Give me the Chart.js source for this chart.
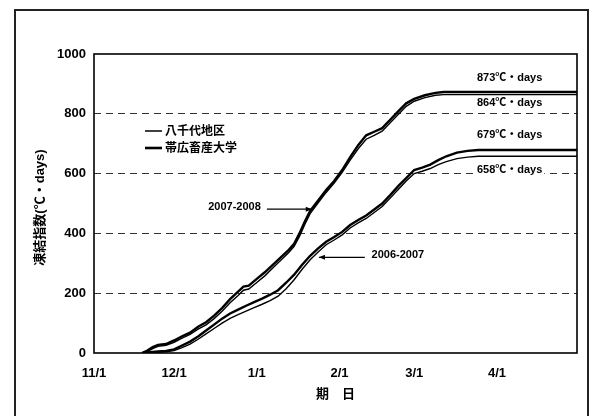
<!DOCTYPE html>
<html>
<head>
<meta charset="utf-8">
<script src="https://cdn.jsdelivr.net/npm/chart.js@4/dist/chart.umd.min.js"></script>
<style>
  html, body { margin: 0; padding: 0; background: #fff; }
  #wrap { position: relative; width: 594px; height: 416px; overflow: hidden; }
  #frame { position: absolute; left: 14px; top: 9px; width: 575px; height: 440px;
           border: 2px solid #222; box-sizing: border-box; }
  canvas { position: absolute; left: 0; top: 0; }
</style>
</head>
<body>
<div id="wrap"><div id="frame"></div><canvas id="c" width="594" height="416"></canvas></div>
<script>
// Days counted from 11/1; month tick positions and labels
const monthDays   = [0, 30, 61, 92, 120, 151];
const monthLabels = ['11/1', '12/1', '1/1', '2/1', '3/1', '4/1'];
const yTicks      = [0, 200, 400, 600, 800, 1000];

// Season 2007-2008 (freezing index, °C・days)
const days0708    = [18, 20, 22, 24, 27, 30, 33, 36, 39, 42, 45, 48, 51, 54, 56, 58, 61, 64, 67, 70, 73, 75, 77, 79, 81, 84, 87, 90, 93, 96, 99, 102, 105, 108, 111, 114, 117, 120, 124, 128, 131, 181];
const obihiro0708 = [0, 8, 20, 27, 30, 42, 56, 68, 88, 103, 125, 150, 180, 205, 222, 225, 248, 270, 295, 320, 345, 365, 400, 440, 475, 510, 545, 575, 612, 655, 695, 728, 740, 752, 780, 808, 835, 850, 862, 870, 873, 873];
const yachiyo0708 = [0, 5, 15, 22, 26, 36, 50, 62, 80, 94, 115, 140, 168, 192, 210, 214, 236, 258, 284, 310, 336, 357, 390, 430, 466, 502, 537, 568, 604, 645, 683, 715, 728, 742, 770, 798, 825, 842, 854, 862, 864, 864];

// Season 2006-2007
const days0607    = [18, 21, 24, 27, 30, 33, 36, 39, 42, 45, 48, 51, 54, 57, 60, 63, 66, 69, 72, 75, 78, 81, 84, 87, 90, 93, 96, 99, 102, 105, 108, 111, 114, 117, 120, 123, 126, 129, 132, 136, 140, 144, 181];
const obihiro0607 = [0, 3, 5, 7, 12, 25, 38, 55, 75, 95, 115, 132, 145, 158, 170, 182, 195, 210, 235, 262, 295, 325, 350, 372, 388, 405, 428, 445, 460, 480, 500, 528, 558, 585, 612, 620, 630, 645, 658, 670, 676, 679, 679];
const yachiyo0607 = [0, 2, 3, 4, 8, 18, 30, 46, 64, 82, 100, 116, 128, 140, 152, 163, 175, 190, 215, 245, 280, 312, 338, 362, 378, 395, 418, 435, 450, 470, 490, 518, 547, 575, 600, 608, 617, 630, 640, 650, 655, 658, 658];

// Final totals shown at the right
const totalLabels = ['873℃・days', '864℃・days', '679℃・days', '658℃・days'];
const totalPos    = [[143.5, 921], [143.5, 835], [143.5, 728], [143.5, 611]];

const seriesNames = ['八千代地区', '帯広畜産大学'];

const FONT = '"Liberation Sans", "Noto Sans CJK JP", Arial, sans-serif';
const toXY = (xs, ys) => xs.map((d, i) => ({ x: d, y: ys[i] }));

const lineDs = (label, xs, ys, w) => ({
  label, data: toXY(xs, ys), borderColor: '#000', borderWidth: w,
  pointRadius: 0, tension: 0, fill: false
});

// Frame, legend, annotations and axis titles
const decor = {
  id: 'decor',
  afterDatasetsDraw(chart) {
    const { ctx, chartArea: a, scales: { x, y } } = chart;
    ctx.save();
    // plot border
    ctx.strokeStyle = '#000';
    ctx.lineWidth = 1.6;
    ctx.setLineDash([]);
    ctx.strokeRect(a.left, a.top, a.right - a.left, a.bottom - a.top);

    // totals with white background
    ctx.font = 'bold 11px ' + FONT;
    ctx.textBaseline = 'middle';
    ctx.textAlign = 'left';
    totalLabels.forEach((t, i) => {
      const px = x.getPixelForValue(totalPos[i][0]);
      const py = y.getPixelForValue(totalPos[i][1]);
      const w = ctx.measureText(t).width;
      ctx.fillStyle = '#fff';
      ctx.fillRect(px - 2, py - 7, w + 4, 14);
      ctx.fillStyle = '#000';
      ctx.fillText(t, px, py);
    });

    // season annotations with arrows
    const arrow = (x0, x1, yv) => {
      const p0 = x.getPixelForValue(x0), p1 = x.getPixelForValue(x1), py = y.getPixelForValue(yv);
      ctx.strokeStyle = '#000';
      ctx.lineWidth = 1.3;
      ctx.beginPath(); ctx.moveTo(p0, py); ctx.lineTo(p1, py); ctx.stroke();
      const dir = Math.sign(p1 - p0);
      ctx.fillStyle = '#000';
      ctx.beginPath();
      ctx.moveTo(p1, py);
      ctx.lineTo(p1 - dir * 6, py - 2.5);
      ctx.lineTo(p1 - dir * 6, py + 2.5);
      ctx.closePath(); ctx.fill();
    };
    ctx.font = 'bold 11px ' + FONT;
    ctx.fillStyle = '#000';
    ctx.textAlign = 'right';
    ctx.fillText('2007-2008', x.getPixelForValue(62.5), y.getPixelForValue(490));
    arrow(64.8, 81.6, 481);
    ctx.textAlign = 'left';
    ctx.fillText('2006-2007', x.getPixelForValue(104), y.getPixelForValue(327));
    arrow(101.5, 84.3, 320);

    // legend
    ctx.font = 'bold 12px ' + FONT;
    ctx.textAlign = 'left';
    const lg = [[131, 1.5], [148, 2.6]];
    seriesNames.forEach((n, i) => {
      const ly = lg[i][0];
      ctx.strokeStyle = '#000';
      ctx.lineWidth = lg[i][1];
      ctx.beginPath(); ctx.moveTo(145, ly); ctx.lineTo(162, ly); ctx.stroke();
      ctx.fillStyle = '#000';
      ctx.fillText(n, 165, ly + 1);
    });

    // axis titles
    ctx.font = 'bold 13px ' + FONT;
    ctx.textAlign = 'center';
    ctx.fillText('期　日', (a.left + a.right) / 2, 394);
    ctx.save();
    ctx.translate(40, (a.top + a.bottom) / 2 + 4);
    ctx.rotate(-Math.PI / 2);
    ctx.fillText('凍結指数(℃・days)', 0, 0);
    ctx.restore();
    ctx.restore();
  }
};

new Chart(document.getElementById('c'), {
  type: 'line',
  data: {
    datasets: [
      lineDs(seriesNames[1], days0708, obihiro0708, 2.4),
      lineDs(seriesNames[0], days0708, yachiyo0708, 1.4),
      lineDs(seriesNames[1], days0607, obihiro0607, 2.4),
      lineDs(seriesNames[0], days0607, yachiyo0607, 1.4)
    ]
  },
  options: {
    responsive: false,
    devicePixelRatio: 1,
    animation: false,
    layout: { padding: { top: 54, right: 17, left: 0, bottom: 0 } },
    plugins: { legend: { display: false }, tooltip: { enabled: false } },
    scales: {
      x: {
        type: 'linear', min: 0, max: 181,
        afterBuildTicks: s => { s.ticks = monthDays.map(v => ({ value: v })); },
        ticks: {
          callback: v => monthLabels[monthDays.indexOf(v)],
          font: { family: FONT, size: 13, weight: 'bold' },
          color: '#000', padding: 13, maxRotation: 0, autoSkip: false
        },
        grid: { display: false, drawTicks: false },
        border: { display: false },
        afterFit: s => { s.height = 63; }
      },
      y: {
        min: 0, max: 1000,
        afterBuildTicks: s => { s.ticks = yTicks.map(v => ({ value: v })); },
        ticks: {
          callback: v => String(v),
          font: { family: FONT, size: 13, weight: 'bold' },
          color: '#000', padding: 8
        },
        grid: {
          color: c => (c.tick && (c.tick.value === 0 || c.tick.value === 1000)) ? 'rgba(0,0,0,0)' : '#333',
          lineWidth: 1, drawTicks: false
        },
        border: { display: false, dash: [7, 5] },
        afterFit: s => { s.width = 94; }
      }
    }
  },
  plugins: [decor]
});
</script>
</body>
</html>
